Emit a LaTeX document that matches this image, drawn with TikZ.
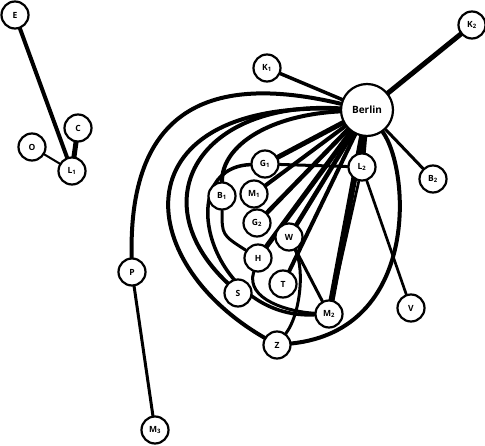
\documentclass[tikz,border=0pt]{standalone}
\usepackage{fontspec}
\setmainfont{Open Sans}
\usetikzlibrary{backgrounds}

\begin{document}
\begin{tikzpicture}[
  x=1pt, y=-1pt,
  town/.style={circle, draw, line width=2.2pt, fill=white, minimum size=27pt,
    inner sep=0pt, font=\bfseries\fontsize{8.5}{8.5}\selectfont},
  capital/.style={town, minimum size=52pt, font=\bfseries\fontsize{10}{10}\selectfont},
  road/.style={line width=#1, line cap=round},
  road/.default=3pt,
]

\useasboundingbox (0,0) rectangle (485,446);

% =============================================
% Towns
% =============================================
\node[town] (E) at (15,15) {E};
\node[town] (C) at (78,128) {C};
\node[town] (O) at (32,147) {O};
\node[town] (L1) at (72,171) {L\textsubscript{1}};

\node[capital] (berlin) at (367,110) {Berlin};
\node[town] (K1) at (267,68) {K\textsubscript{1}};
\node[town] (K2) at (472,25) {K\textsubscript{2}};
\node[town] (B2) at (433,179) {B\textsubscript{2}};
\node[town] (L2) at (362,167) {L\textsubscript{2}};

\node[town] (G1) at (265,164) {G\textsubscript{1}};
\node[town] (B1) at (222,196) {B\textsubscript{1}};
\node[town] (M1) at (254,194) {M\textsubscript{1}};
\node[town] (G2) at (257,223) {G\textsubscript{2}};
\node[town] (W) at (289,237) {W};
\node[town] (H) at (258,258) {H};
\node[town] (T) at (283,284) {T};
\node[town] (S) at (238,293) {S};
\node[town] (M2) at (329,314) {M\textsubscript{2}};
\node[town] (V) at (411,308) {V};
\node[town] (Z) at (277,345) {Z};

\node[town] (P) at (132,272) {P};
\node[town] (M3) at (155,430) {M\textsubscript{3}};

% =============================================
% Roads
% =============================================
\begin{scope}[on background layer]
\fill[white] (0,0) rectangle (485,446);

% west group
\draw[road=4pt] (E) -- (L1);
\draw[road=5pt] (C) -- (L1);
\draw[road=2pt] (O) -- (L1);

% straight from Berlin
\draw[road=3.5pt] (K1) -- (berlin);
\draw[road=5pt] (K2) -- (berlin);
\draw[road=3pt] (B2) -- (berlin);
\draw[road=5pt] (L2) -- (berlin);
\draw[road=6pt] (berlin) -- (M2);
\draw[road=4.5pt] (berlin) -- (W);
\draw[road=4pt] (berlin) -- (T);
\draw[road=5pt] (berlin) -- (H);
\draw[road=4.5pt] (berlin) -- (G2);
\draw[road=4pt] (berlin) -- (M1);
\draw[road=5pt] (berlin) -- (G1);

% L2 and the south
\draw[road=3pt] (G1) -- (L2);
\draw[road=2.7pt] (L2) -- (M2);
\draw[road=2.7pt] (L2) -- (V);
\draw[road=3pt] (W) -- (M2);
\draw[road=3pt] (P) -- (M3);

% long curves
\draw[road=4pt] (berlin) .. controls (220,75) and (128,100) .. (P);
\draw[road=4pt] (berlin) .. controls (120,100) and (130,260) .. (Z);
\draw[road=4pt] (berlin) .. controls (410,170) and (420,330) .. (Z);
\draw[road=4pt] (berlin) .. controls (200,100) and (140,200) .. (S);
\draw[road=4pt] (berlin) .. controls (270,115) and (222,145) .. (B1);
\draw[road=3.5pt] (G1) .. controls (170,168) and (210,320) .. (M2);
\draw[road=3pt] (B1) .. controls (222,235) .. (H);
\draw[road=3pt] (H) .. controls (245,300) and (290,312) .. (M2);
\draw[road=3pt] (W) .. controls (305,270) and (300,315) .. (Z);
\end{scope}

\end{tikzpicture}
\end{document}
